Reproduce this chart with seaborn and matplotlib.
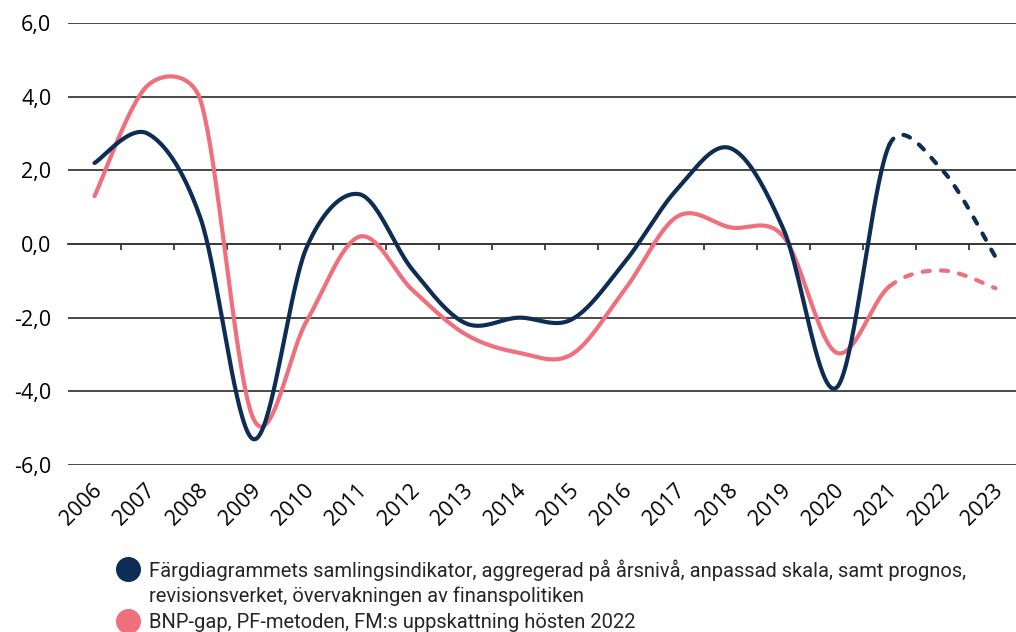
import numpy as np
import pandas as pd
import seaborn as sns
import matplotlib.pyplot as plt
from matplotlib.lines import Line2D
from matplotlib.ticker import FixedLocator, FuncFormatter
from matplotlib.transforms import ScaledTranslation

# data
years = list(range(2006, 2024))
year_labels = [str(y) for y in years]
samlingsindikator = [2.2, 3.0, 0.7, -5.3, -0.1, 1.35, -0.7, -2.15, -2.0, -2.05,
                     -0.5, 1.5, 2.6, 0.4, -3.9, 2.7, 2.0, -0.35]
bnp_gap = [1.3, 4.3, 3.9, -4.75, -2.1, 0.2, -1.25, -2.45, -2.95, -3.0,
           -1.25, 0.75, 0.45, 0.2, -2.95, -1.15, -0.72, -1.2]
forecast_from = 2021
y_ticks = [-6, -4, -2, 0, 2, 4, 6]
label_navy = ['Färgdiagrammets samlingsindikator, aggregerad på årsnivå, anpassad skala, samt prognos,',
              'revisionsverket, övervakningen av finanspolitiken']
label_pink = 'BNP-gap, PF-metoden, FM:s uppskattning hösten 2022'

# colors
navy = '#0d2d55'
pink = '#ef707c'
grid_col = '#3a3a3a'


# Excel-style smoothed line: cubic Bezier per segment, control points limited
# to half the segment length (computed in screen-like units)
def smooth_segments(x, y, sx=53.0, sy=36.85, n=40):
    P = np.column_stack([np.asarray(x, float) * sx, np.asarray(y, float) * sy])
    segs = []
    for i in range(len(P) - 1):
        p0 = P[max(i - 1, 0)]
        p1 = P[i]
        p2 = P[i + 1]
        p3 = P[min(i + 2, len(P) - 1)]
        d12 = np.hypot(*(p2 - p1))
        d02 = np.hypot(*(p2 - p0))
        d13 = np.hypot(*(p3 - p1))
        f1 = 1 / 6 if d02 / 6 < d12 / 2 else d12 / (2 * d02)
        f2 = 1 / 6 if d13 / 6 < d12 / 2 else d12 / (2 * d13)
        c1 = p1 + f1 * (p2 - p0)
        c2 = p2 - f2 * (p3 - p1)
        t = np.linspace(0, 1, n)[:, None]
        b = (1 - t) ** 3 * p1 + 3 * (1 - t) ** 2 * t * c1 + 3 * (1 - t) * t ** 2 * c2 + t ** 3 * p2
        segs.append(pd.DataFrame({'x': b[:, 0] / sx, 'y': b[:, 1] / sy}))
    return segs


sns.set_theme(style='white')
plt.rcParams['font.family'] = ['Open Sans', 'DejaVu Sans']

fig = plt.figure(figsize=(10.16, 6.32), dpi=100)
ax = fig.add_axes([68 / 1016, (632 - 465) / 632, 954 / 1016, (465 - 23) / 632])

xpos = np.arange(len(years))
split = years.index(forecast_from)

for values, color, z in [(bnp_gap, pink, 3), (samlingsindikator, navy, 4)]:
    segs = smooth_segments(xpos, values)
    solid = pd.concat(segs[:split], ignore_index=True)
    dashed = pd.concat(segs[split:], ignore_index=True)
    sns.lineplot(data=solid, x='x', y='y', ax=ax, color=color, lw=3.0,
                 sort=False, estimator=None, zorder=z, solid_capstyle='round')
    sns.lineplot(data=dashed, x='x', y='y', ax=ax, color=color, lw=3.0,
                 sort=False, estimator=None, zorder=z, dashes=False,
                 linestyle=(0, (1.7, 2.7)), dash_capstyle='round')

# axes styling
ax.set_xlim(-0.5, len(years) - 0.5)
ax.set_ylim(-6, 6)
for s in ax.spines.values():
    s.set_visible(False)
ax.yaxis.set_major_locator(FixedLocator(y_ticks))
ax.yaxis.set_major_formatter(FuncFormatter(lambda v, p: f'{v:.1f}'.replace('.', ',')))
ax.grid(axis='y', color=grid_col, lw=1.3)
ax.grid(axis='x', visible=False)
ax.set_axisbelow(True)
ax.tick_params(axis='y', length=0, pad=12, labelsize=15.5, labelcolor='black')
ax.set_xticks(xpos)
ax.set_xticklabels(year_labels, rotation=45, ha='right', va='top',
                   rotation_mode='anchor')
ax.tick_params(axis='x', length=0, pad=11, labelsize=15.5, labelcolor='black')
for lab in ax.get_xticklabels():
    lab.set_transform(lab.get_transform() + ScaledTranslation(-3 / 100, 0, fig.dpi_scale_trans))
ax.set_xlabel('')
ax.set_ylabel('')

# tick marks on the zero line at category boundaries, pointing down
zero_axis = ax.secondary_xaxis(0.5)
zero_axis.set_alignment('bottom')
zero_axis.spines['bottom'].set_color(grid_col)
zero_axis.spines['bottom'].set_linewidth(1.3)
zero_axis.set_xticks(xpos[1:] - 0.5)
zero_axis.set_xticklabels([])
zero_axis.tick_params(axis='x', direction='out', length=4.5, width=1.3, color=grid_col)

# legend
handles = [Line2D([], [], ls='', marker='o', ms=17, color=navy),
           Line2D([], [], ls='', marker=''),
           Line2D([], [], ls='', marker='o', ms=17, color=pink)]
labels = [label_navy[0], label_navy[1], label_pink]
leg = fig.legend(handles, labels, loc='upper left', bbox_to_anchor=(115 / 1016, 1 - 559 / 632),
                 frameon=False, borderpad=0, borderaxespad=0, labelspacing=0.32,
                 handlelength=1.3, handletextpad=0.4,
                 prop={'family': ['Roboto', 'DejaVu Sans'], 'size': 14.5})

fig.savefig('out.png', dpi=100)
